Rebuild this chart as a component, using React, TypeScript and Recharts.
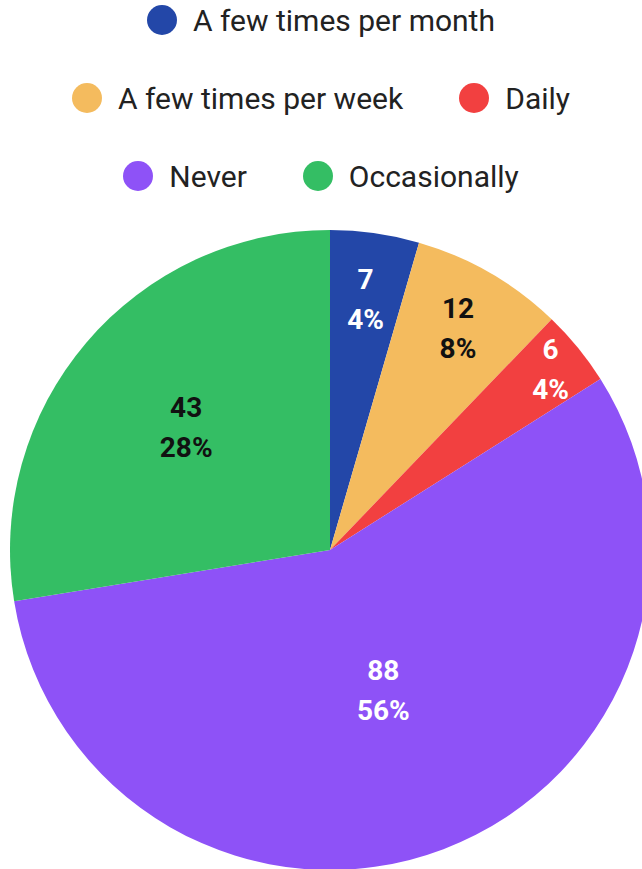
import React from "react";
import { PieChart, Pie, Cell } from "recharts";

const categories = [
  "A few times per month",
  "A few times per week",
  "Daily",
  "Never",
  "Occasionally",
];
const counts = [7, 12, 6, 88, 43];
const colors = ["#2347A8", "#F4BB5E", "#F24040", "#8E52F7", "#34BE64"];
const labelColors = ["#ffffff", "#111111", "#ffffff", "#ffffff", "#111111"];
// how far out (fraction of radius) each slice label sits
const labelRadius = [0.79, 0.8, 0.89, 0.47, 0.59];
const legendRows = [[0], [1, 2], [3, 4]];

const data = categories.map((name, i) => ({ name, value: counts[i] }));

const RADIAN = Math.PI / 180;

const renderLabel = (props: any) => {
  const { cx, cy, midAngle, outerRadius, percent, value, index } = props;
  const r = outerRadius * labelRadius[index];
  const x = cx + r * Math.cos(-midAngle * RADIAN);
  const y = cy + r * Math.sin(-midAngle * RADIAN);
  return (
    <text
      x={x}
      y={y}
      fill={labelColors[index]}
      textAnchor="middle"
      fontFamily="Roboto"
      fontWeight={700}
      fontSize={28}
    >
      <tspan x={x} y={y - 20} dominantBaseline="central">{value}</tspan>
      <tspan x={x} y={y + 20} dominantBaseline="central">{`${Math.round(percent * 100)}%`}</tspan>
    </text>
  );
};

const ChartLegend = () => (
  <div
    style={{
      position: "absolute",
      left: 0,
      top: 0,
      width: 642,
      fontFamily: "Roboto",
      fontSize: 30,
      color: "#222",
    }}
  >
    {legendRows.map((row, ri) => (
      <div
        key={ri}
        style={{
          display: "flex",
          justifyContent: "center",
          alignItems: "center",
          height: 40,
          marginBottom: 38,
          gap: 56,
        }}
      >
        {row.map(i => (
          <div key={i} style={{ display: "flex", alignItems: "center" }}>
            <span
              style={{
                display: "inline-block",
                width: 30,
                height: 30,
                borderRadius: 15,
                background: colors[i],
                marginRight: 16,
              }}
            />
            <span>{categories[i]}</span>
          </div>
        ))}
      </div>
    ))}
  </div>
);

const App: React.FC = () => {
  return (
    <div style={{ position: "absolute", left: 0, top: 0, width: 642, height: 869, overflow: "hidden", background: "#fff" }}>
      <PieChart width={642} height={869} margin={{ top: 0, right: 0, bottom: 0, left: 0 }}>
        <Pie
          data={data}
          dataKey="value"
          nameKey="name"
          cx={330}
          cy={550}
          outerRadius={320}
          startAngle={90}
          endAngle={-270}
          stroke="none"
          labelLine={false}
          label={renderLabel}
          isAnimationActive={false}
        >
          {data.map((d, i) => (
            <Cell key={d.name} fill={colors[i]} />
          ))}
        </Pie>
      </PieChart>
      <ChartLegend />
    </div>
  );
};

export default App;
